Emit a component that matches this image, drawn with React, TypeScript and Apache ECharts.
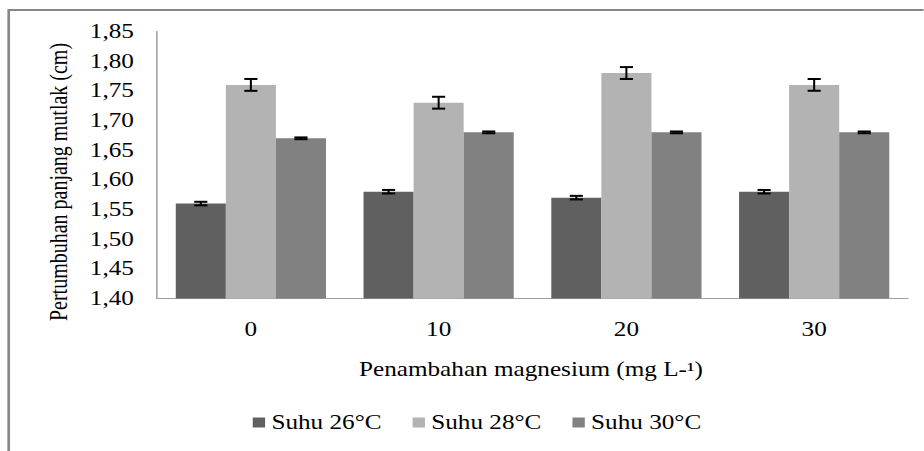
import React, { useEffect, useRef } from "react";
import * as echarts from "echarts";

const categories = ["0", "10", "20", "30"];
const seriesNames = ["Suhu 26°C", "Suhu 28°C", "Suhu 30°C"];
const suhu26 = [1.56, 1.58, 1.57, 1.58];
const suhu28 = [1.76, 1.73, 1.78, 1.76];
const suhu30 = [1.67, 1.68, 1.68, 1.68];
const err26 = [0.003, 0.003, 0.003, 0.003];
const err28 = [0.01, 0.01, 0.01, 0.01];
const err30 = [0.0015, 0.0015, 0.0015, 0.0015];
const yMin = 1.4;
const yMax = 1.85;
const yInterval = 0.05;
const xTitle = "Penambahan magnesium (mg L-¹)";
const yTitle = "Pertumbuhan panjang mutlak (cm)";

const colors = ["#606060", "#b3b3b3", "#818181"];
const FONT = '"Liberation Serif", "Times New Roman", serif';
const SX = 1.26;
const W = 924 / SX;
const H = 451;

export default function App() {
  const ref = useRef<HTMLDivElement>(null);
  useEffect(() => {
    if (!ref.current) return;
    const chart = echarts.init(ref.current, undefined, { renderer: "svg" });
    const values = [suhu26, suhu28, suhu30];
    const errs = [err26, err28, err30];
    const barSeries = values.map((vals, k) => ({
      name: seriesNames[k],
      type: "bar",
      data: vals,
      barGap: "0%",
      barCategoryGap: "20%",
      itemStyle: { color: colors[k] },
      z: 2,
    }));
    const errSeries = values.map((vals, k) => ({
      name: seriesNames[k] + " err",
      type: "custom",
      z: 5,
      data: vals.map((v, i) => [i, v, errs[k][i]]),
      renderItem: (params: any, api: any) => {
        const idx = api.value(0);
        const v = api.value(1);
        const e = api.value(2);
        const band = api.size([1, 0])[0];
        const bw = (band * 0.8) / 3;
        const c = api.coord([idx, v]);
        const x = c[0] + (k - 1) * bw;
        const yTop = api.coord([idx, v + e])[1];
        const yBot = api.coord([idx, v - e])[1];
        const hw = 5.2;
        const style = { stroke: "#000", lineWidth: 2 };
        return {
          type: "group",
          children: [
            { type: "line", shape: { x1: x, y1: yTop, x2: x, y2: yBot }, style: { stroke: "#000", lineWidth: 1.6 } },
            { type: "line", shape: { x1: x - hw, y1: yTop, x2: x + hw, y2: yTop }, style },
            { type: "line", shape: { x1: x - hw, y1: yBot, x2: x + hw, y2: yBot }, style },
          ],
        };
      },
    }));
    chart.setOption({
      animation: false,
      textStyle: { fontFamily: FONT },
      grid: { left: 124.6, right: W - 721, top: 31.5, bottom: H - 298.5, containLabel: false },
      legend: {
        data: seriesNames,
        left: 200.6,
        top: 412.5,
        padding: 0,
        icon: "rect",
        itemWidth: 9.8,
        itemHeight: 10,
        itemGap: 24.6,
        textStyle: { fontFamily: FONT, fontSize: 20, color: "#000", lineHeight: 20 },
      },
      xAxis: {
        type: "category",
        data: categories,
        axisTick: { show: false },
        axisLine: { lineStyle: { color: "#a0a0a0", width: 1 } },
        axisLabel: { fontFamily: FONT, fontSize: 20, color: "#000", margin: 21 },
      },
      yAxis: {
        type: "value",
        min: yMin,
        max: yMax,
        interval: yInterval,
        splitLine: { show: false },
        axisTick: { show: false },
        axisLine: { show: true, lineStyle: { color: "#8a8a8a", width: 1 } },
        axisLabel: {
          fontFamily: FONT,
          fontSize: 20,
          color: "#000",
          margin: 18.3,
          formatter: (v: number) => v.toFixed(2).replace(".", ","),
        },
      },
      graphic: [
        { type: "line", shape: { x1: 6.9, y1: 10, x2: W + 5, y2: 10 }, style: { stroke: "#878787", lineWidth: 2 } },
        { type: "line", shape: { x1: 6.9, y1: 9, x2: 6.9, y2: H + 5 }, style: { stroke: "#878787", lineWidth: 2.1 } },
        {
          type: "text",
          x: 46.4,
          y: 182,
          rotation: Math.PI / 2,
          style: { text: yTitle, font: `20px ${FONT}`, fill: "#000", textAlign: "center", textVerticalAlign: "middle" },
        },
        {
          type: "text",
          x: 421.4,
          y: 369,
          style: { text: xTitle, font: `20px ${FONT}`, fill: "#000", textAlign: "center", textVerticalAlign: "middle" },
        },
      ],
      series: [...barSeries, ...errSeries],
    });
    return () => chart.dispose();
  }, []);
  return (
    <div
      ref={ref}
      style={{
        position: "absolute",
        left: 0,
        top: 0,
        width: W,
        height: H,
        transform: `scaleX(${SX})`,
        transformOrigin: "0 0",
        background: "#fff",
      }}
    />
  );
}
